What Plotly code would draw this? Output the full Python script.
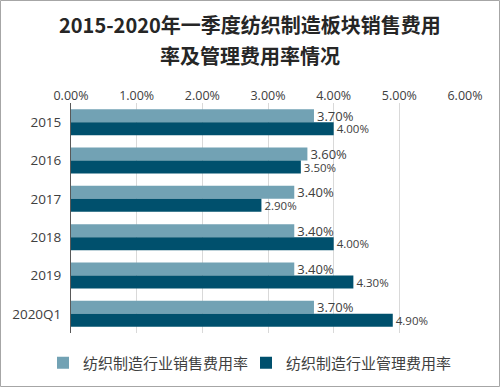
import plotly.graph_objects as go

categories = ["2015", "2016", "2017", "2018", "2019", "2020Q1"]
sales_rate = [0.037, 0.036, 0.034, 0.034, 0.034, 0.037]
mgmt_rate = [0.040, 0.035, 0.029, 0.040, 0.043, 0.049]
series_names = ["纺织制造行业销售费用率", "纺织制造行业管理费用率"]
tick_vals = [0, 0.01, 0.02, 0.03, 0.04, 0.05, 0.06]
title_lines = ["2015-2020年一季度纺织制造板块销售费用", "率及管理费用率情况"]

FONT = "Open Sans, Noto Sans CJK SC, sans-serif"
CJK = "Noto Sans CJK SC, sans-serif"

fig = go.Figure()
fig.add_trace(go.Bar(
    y=categories, x=sales_rate, orientation="h", name=series_names[0],
    marker=dict(color="#72A2B4", line=dict(width=0)),
    text=[f"{v*100:.2f}%" for v in sales_rate], textposition="outside",
    constraintext="none", legend="legend", showlegend=True,
    textfont=dict(size=13, color="#404040", family=FONT), cliponaxis=False,
))
fig.add_trace(go.Bar(
    y=categories, x=mgmt_rate, orientation="h", name=series_names[1],
    marker=dict(color="#00506D", line=dict(width=0)),
    text=[f"{v*100:.2f}%" for v in mgmt_rate], textposition="outside",
    constraintext="none", legend="legend2", showlegend=True,
    textfont=dict(size=11.5, color="#404040", family=FONT), cliponaxis=False,
))

L, R, T, B = 71, 35, 103, 54
W, H = 500, 387
pw, ph = W - L - R, H - T - B

def py(pix):
    return (T + ph - pix) / ph

leg_common = dict(orientation="h", xref="container", yref="container",
                  xanchor="left", yanchor="middle", y=(H - 363) / H,
                  font=dict(size=15, color="#404040", family=CJK),
                  itemwidth=30, bgcolor="rgba(0,0,0,0)", visible=True)

fig.update_layout(
    width=W, height=H, margin=dict(l=L, r=R, t=T, b=B, autoexpand=False),
    paper_bgcolor="white", plot_bgcolor="white", showlegend=True,
    barmode="group", bargap=0.32, bargroupgap=0,
    font=dict(family=FONT, color="#404040", size=12),
    legend=dict(x=43 / W, **leg_common),
    legend2=dict(x=246 / W, **leg_common),
    xaxis=dict(side="top", range=[0, 0.06], tickvals=tick_vals, tickformat=".2%",
               showgrid=True, gridcolor="#D9D9D9", gridwidth=1, zeroline=False,
               showline=False, ticks="", automargin=False,
               tickfont=dict(size=12.5, color="#404040")),
    yaxis=dict(autorange="reversed", showline=True, linecolor="#595959", linewidth=1,
               ticks="", automargin=False, ticklabelstandoff=6,
               tickfont=dict(size=13.5, color="#404040")),
)

for line, ypix in zip(title_lines, [25, 55]):
    fig.add_annotation(text=f"<b>{line}</b>", xref="paper", yref="paper",
                       x=(250 - L) / pw, y=py(ypix), xanchor="center", yanchor="middle",
                       showarrow=False, font=dict(size=20, color="#262626", family=CJK))

fig.add_shape(type="rect", xref="paper", yref="paper",
              x0=(0.5 - L) / pw, x1=(W - 0.5 - L) / pw,
              y0=py(H - 0.5), y1=py(0.5),
              line=dict(color="#A6A6A6", width=1), layer="below")

fig.write_html("out.html", config={"displayModeBar": False},
               post_script="document.body.style.margin='0';")
